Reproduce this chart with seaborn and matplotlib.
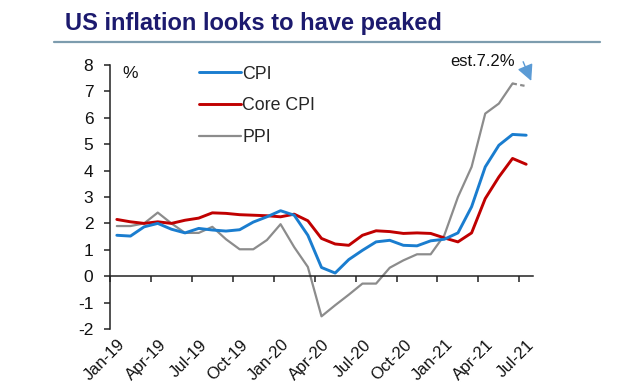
import numpy as np
import pandas as pd
import matplotlib
matplotlib.use("Agg")
import matplotlib.pyplot as plt
import matplotlib.transforms as mtransforms
from matplotlib.lines import Line2D
import seaborn as sns

# ---- data ----
months = list(pd.date_range("2019-01-01", periods=31, freq="MS").strftime("%b-%y"))
cpi = [1.55, 1.52, 1.87, 2.0, 1.78, 1.64, 1.81, 1.75, 1.71, 1.76, 2.05, 2.25,
       2.48, 2.31, 1.55, 0.33, 0.12, 0.63, 0.98, 1.3, 1.36, 1.17, 1.15, 1.34,
       1.4, 1.64, 2.63, 4.14, 4.96, 5.37, 5.34]
core_cpi = [2.15, 2.06, 2.0, 2.06, 2.0, 2.12, 2.2, 2.4, 2.38, 2.33, 2.31, 2.29,
            2.25, 2.35, 2.1, 1.43, 1.22, 1.17, 1.55, 1.72, 1.69, 1.62, 1.64, 1.62,
            1.45, 1.3, 1.64, 2.94, 3.76, 4.46, 4.24]
ppi = [1.9, 1.9, 2.0, 2.41, 2.0, 1.64, 1.64, 1.87, 1.4, 1.02, 1.02, 1.37,
       1.97, 1.1, 0.35, -1.52, -1.1, -0.7, -0.28, -0.28, 0.32, 0.6, 0.83, 0.83,
       1.55, 3.0, 4.14, 6.16, 6.54, 7.3, 7.2]
xtick_labels = ["Jan-19", "Apr-19", "Jul-19", "Oct-19", "Jan-20", "Apr-20",
                "Jul-20", "Oct-20", "Jan-21", "Apr-21", "Jul-21"]
series_names = ["CPI", "Core CPI", "PPI"]
colors = {"CPI": "#1a7dcf", "Core CPI": "#c00000", "PPI": "#8c8c8c"}
title = "US inflation looks to have peaked"
annotation = "est.7.2%"

sns.set_style("white")
plt.rcParams["font.family"] = ["Liberation Sans", "DejaVu Sans"]

fig = plt.figure(figsize=(6.2, 3.91), dpi=100)
ax = fig.add_axes([110 / 620, 1 - 329 / 391, (533 - 110) / 620, (329 - 65) / 391])

x = np.arange(len(months))
df = pd.DataFrame({"x": x, "CPI": cpi, "Core CPI": core_cpi, "PPI": ppi})

sns.lineplot(x=df["x"][:30], y=df["PPI"][:30], ax=ax, color=colors["PPI"], lw=1.6, label="_ppi")
sns.lineplot(x=df["x"][29:], y=df["PPI"][29:], ax=ax, color=colors["PPI"], lw=1.6,
             linestyle=(0, (2, 1.5)), label="_ppi_est")
sns.lineplot(x=df["x"], y=df["Core CPI"], ax=ax, color=colors["Core CPI"], lw=2.1, label="_core")
sns.lineplot(x=df["x"], y=df["CPI"], ax=ax, color=colors["CPI"], lw=2.1, label="_cpi")

ax.set_xlim(-0.5, len(months) - 0.5)
ax.set_ylim(-2, 8)
ax.set_xlabel("")
ax.set_ylabel("")

# spines
for s in ["top", "right"]:
    ax.spines[s].set_visible(False)
ax.spines["bottom"].set_position(("data", 0))
for s in ["left", "bottom"]:
    ax.spines[s].set_color("#222222")
    ax.spines[s].set_linewidth(1.1)

ax.set_yticks(range(-2, 9))
ax.set_yticklabels([str(v) for v in range(-2, 9)], fontsize=12.5, color="#111111")
ax.tick_params(axis="y", direction="out", length=4, width=1.1, pad=8, left=True, color="#222222")

ax.set_xticks(np.arange(-0.5, len(months), 3))
ax.set_xticklabels([])
ax.tick_params(axis="x", direction="out", length=4, width=1.1, bottom=True, color="#222222")

trans = mtransforms.blended_transform_factory(ax.transData, ax.transAxes)
for i, lab in zip(range(0, len(months), 3), xtick_labels):
    ax.text(i + 0.05, -0.03, lab, transform=trans, rotation=45, ha="right", va="top",
            rotation_mode="anchor", fontsize=12, color="#111111")

ax.text(0.03, 0.995, "%", transform=ax.transAxes, fontsize=12.5, va="top", ha="left", color="#111111")

# legend
handles = [Line2D([], [], color=colors[n], lw=2.1 if n != "PPI" else 1.6) for n in series_names]
ax.legend(handles, series_names, loc="upper left", bbox_to_anchor=(0.172, 1.058), frameon=False,
          fontsize=12.8, handlelength=2.35, handletextpad=0.1, labelspacing=0.82)

# annotation
ax.annotate("", xy=(30.45, 7.3), xytext=(29.7, 8.22),
            arrowprops=dict(arrowstyle="-|>,head_width=0.35,head_length=0.7", color="#5b9bd5",
                            lw=1.0, mutation_scale=14),
            annotation_clip=False)
ax.text(29.2, 8.12, annotation, fontsize=12, ha="right", va="center", color="#111111")

# title and rule
fig.text(65 / 620, 1 - 30 / 391, title, fontsize=17, fontweight="bold", color="#1c1a6e",
         ha="left", va="baseline")
fig.add_artist(Line2D([54 / 620, 600 / 620], [1 - 42 / 391, 1 - 42 / 391], color="#7d9cae", lw=1.6))

fig.savefig("out.png", dpi=100, facecolor="white")
